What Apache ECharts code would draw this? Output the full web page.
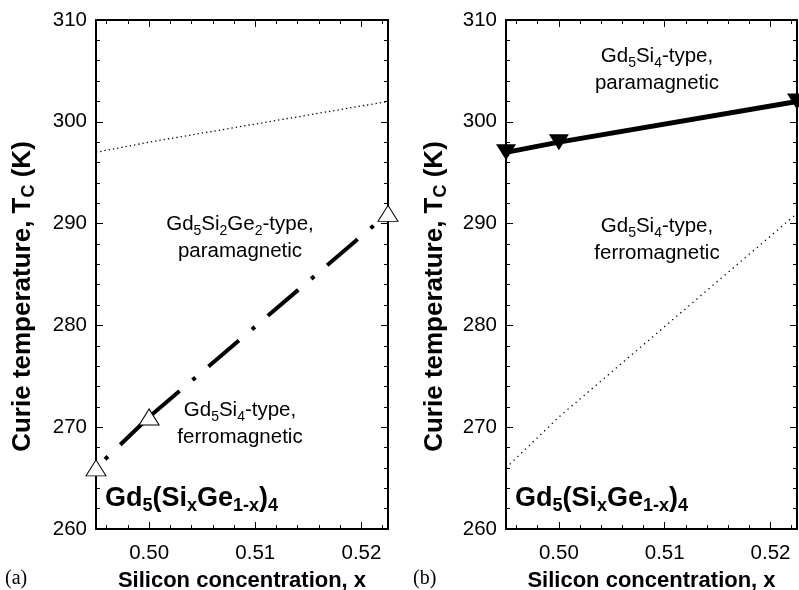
<!DOCTYPE html>
<html>
<head>
<meta charset="utf-8">
<script src="https://cdn.jsdelivr.net/npm/echarts@6/dist/echarts.min.js"></script>
<style>
  html, body { margin: 0; padding: 0; background: #fff; }
  #main { width: 799px; height: 590px; }
</style>
</head>
<body>
<div id="main"></div>
<script>
// 硅含量 x 与居里温度 Tc (K)
// (a) Gd5Si2Ge2 型 <-> Gd5Si4 型 转变点（空心三角）
var xA = [0.495, 0.500, 0.5225];
var tcA = [266, 271, 291];
// (b) Gd5Si4 型 铁磁 <-> 顺磁（实心倒三角）
var xB = [0.495, 0.500, 0.5225];
var tcB = [297, 298, 302];

// 坐标轴刻度
var xMin = 0.495, xMax = 0.5225;
var xTickLabels = [0.50, 0.51, 0.52];
var xMinorTicks = [0.496, 0.498, 0.502, 0.504, 0.506, 0.508, 0.512, 0.514, 0.516, 0.518, 0.522];
var yMin = 260, yMax = 310, yStep = 10;

var FONT = '"Liberation Sans", Arial, Helvetica, sans-serif';

var myChart = echarts.init(document.getElementById('main'));

function pairs(xs, ys) {
  return xs.map(function (x, i) { return [x, ys[i]]; });
}

// 每个面板四根 x 轴：下(主/次刻度) + 上(主/次刻度)
function makeXAxes(grid) {
  var base = {
    type: 'value', gridIndex: grid, min: xMin, max: xMax,
    splitLine: { show: false }
  };
  return [
    Object.assign({}, base, {
      position: 'bottom',
      name: 'Silicon concentration, x',
      nameLocation: 'middle',
      nameGap: 41,
      nameTextStyle: { fontFamily: FONT, fontSize: 22, fontWeight: 'bold', color: '#000' },
      axisLine: { show: true, lineStyle: { color: '#000', width: 2 } },
      axisTick: { show: true, inside: true, length: 7, customValues: xTickLabels, lineStyle: { color: '#000', width: 1 } },
      axisLabel: {
        show: true, customValues: xTickLabels, margin: 14,
        fontFamily: FONT, fontSize: 20.5, color: '#000',
        formatter: function (v) { return v.toFixed(2); }
      }
    }),
    Object.assign({}, base, {
      position: 'bottom',
      axisLine: { show: false },
      axisTick: { show: true, inside: true, length: 4, customValues: xMinorTicks, lineStyle: { color: '#000', width: 1 } },
      axisLabel: { show: false }
    }),
    Object.assign({}, base, {
      position: 'top',
      axisLine: { show: true, lineStyle: { color: '#000', width: 2 } },
      axisTick: { show: true, inside: true, length: 7, customValues: xTickLabels, lineStyle: { color: '#000', width: 1 } },
      axisLabel: { show: false }
    }),
    Object.assign({}, base, {
      position: 'top',
      axisLine: { show: false },
      axisTick: { show: true, inside: true, length: 4, customValues: xMinorTicks, lineStyle: { color: '#000', width: 1 } },
      axisLabel: { show: false }
    })
  ];
}

function makeYAxes(grid) {
  var base = {
    type: 'value', gridIndex: grid, min: yMin, max: yMax, interval: yStep,
    splitLine: { show: false },
    axisLine: { show: true, lineStyle: { color: '#000', width: 2 } },
    axisTick: { show: true, inside: true, length: 7, lineStyle: { color: '#000', width: 1 } },
    minorTick: { show: true, splitNumber: 5, length: 4, lineStyle: { color: '#000', width: 1 } }
  };
  return [
    Object.assign({}, base, {
      position: 'left',
      name: 'Curie temperature, T{s|C} (K)',
      nameLocation: 'middle',
      nameGap: grid === 0 ? 58 : 56,
      nameTextStyle: {
        fontFamily: FONT, fontSize: 26, fontWeight: 'bold', color: '#000',
        lineHeight: 30, padding: [0, 44, 0, 0],
        rich: {
          s: { fontFamily: FONT, fontSize: 18, fontWeight: 'bold', color: '#000', lineHeight: 18, verticalAlign: 'bottom' }
        }
      },
      axisLabel: { show: true, margin: 9, fontFamily: FONT, fontSize: 20.5, color: '#000' }
    }),
    Object.assign({}, base, {
      position: 'right',
      axisLabel: { show: false }
    })
  ];
}

// 图中文字注释（带下标）
function note(x, y, text, align) {
  return {
    type: 'text', x: x, y: y, z: 100,
    style: {
      text: text, fill: '#000', fontFamily: FONT, fontSize: 20.5,
      lineHeight: 27, align: align || 'center', verticalAlign: 'middle',
      rich: {
        s: { fontFamily: FONT, fontSize: 14, fill: '#000', lineHeight: 16, verticalAlign: 'bottom' }
      }
    }
  };
}

function formula(x, y) {
  return {
    type: 'text', x: x, y: y, z: 100,
    style: {
      text: 'Gd{s|5}(Si{s|x}Ge{s|1-x}){s|4}', fill: '#000',
      fontFamily: FONT, fontSize: 27, fontWeight: 'bold', lineHeight: 32,
      align: 'left', verticalAlign: 'middle',
      rich: {
        s: { fontFamily: FONT, fontSize: 18, fontWeight: 'bold', fill: '#000', lineHeight: 8, verticalAlign: 'bottom' }
      }
    }
  };
}

function panelTag(x, text) {
  return {
    type: 'text', x: x, y: 579, z: 100,
    style: {
      text: text, fill: '#000', fontFamily: '"Liberation Serif", "Times New Roman", serif',
      fontSize: 20, align: 'left', verticalAlign: 'middle'
    }
  };
}

var option = {
  animation: false,
  backgroundColor: '#fff',
  grid: [
    { left: 96, top: 20, width: 292, height: 509, outerBoundsMode: 'none', containLabel: false },
    { left: 506, top: 20, width: 291, height: 509, outerBoundsMode: 'none', containLabel: false }
  ],
  xAxis: makeXAxes(0).concat(makeXAxes(1)),
  yAxis: makeYAxes(0).concat(makeYAxes(1)),
  series: [
    // (a) 面板
    {
      type: 'line', xAxisIndex: 0, yAxisIndex: 0, symbol: 'none', clip: false,
      data: pairs(xB, tcB),
      lineStyle: { color: '#000', width: 1.3, type: [1.3, 3] }
    },
    {
      type: 'line', xAxisIndex: 0, yAxisIndex: 0, symbol: 'none', clip: false,
      data: [[xA[1], tcA[1]], [xA[0], tcA[0]]],
      lineStyle: { color: '#000', width: 4, type: [40, 17, 4, 17], cap: 'butt' }
    },
    {
      type: 'line', xAxisIndex: 0, yAxisIndex: 0, symbol: 'none', clip: false,
      data: [[xA[1], tcA[1]], [xA[2], tcA[2]]],
      lineStyle: { color: '#000', width: 4, type: [40, 17, 4, 17], cap: 'butt' }
    },
    {
      type: 'scatter', xAxisIndex: 0, yAxisIndex: 0, clip: false, z: 5,
      data: pairs(xA, tcA),
      symbol: 'triangle', symbolSize: [20, 16],
      itemStyle: { color: '#fff', borderColor: '#000', borderWidth: 1, opacity: 1 }
    },
    // (b) 面板
    {
      type: 'line', xAxisIndex: 4, yAxisIndex: 2, symbol: 'none', clip: false,
      data: pairs(xA, tcA),
      lineStyle: { color: '#000', width: 1.3, type: [1.3, 4] }
    },
    {
      type: 'line', xAxisIndex: 4, yAxisIndex: 2, clip: false, z: 5,
      data: pairs(xB, tcB),
      symbol: 'triangle', symbolRotate: 180, symbolSize: [20, 16], showAllSymbol: true,
      itemStyle: { color: '#000', borderColor: '#000', borderWidth: 0 },
      lineStyle: { color: '#000', width: 5 }
    }
  ],
  graphic: [
    note(240, 238, 'Gd{s|5}Si{s|2}Ge{s|2}-type,\nparamagnetic'),
    note(240, 424, 'Gd{s|5}Si{s|4}-type,\nferromagnetic'),
    note(657, 70, 'Gd{s|5}Si{s|4}-type,\nparamagnetic'),
    note(657, 240, 'Gd{s|5}Si{s|4}-type,\nferromagnetic'),
    formula(105, 499),
    formula(515, 499),
    panelTag(5, '(a)'),
    panelTag(413, '(b)')
  ]
};

myChart.setOption(option);
</script>
</body>
</html>
